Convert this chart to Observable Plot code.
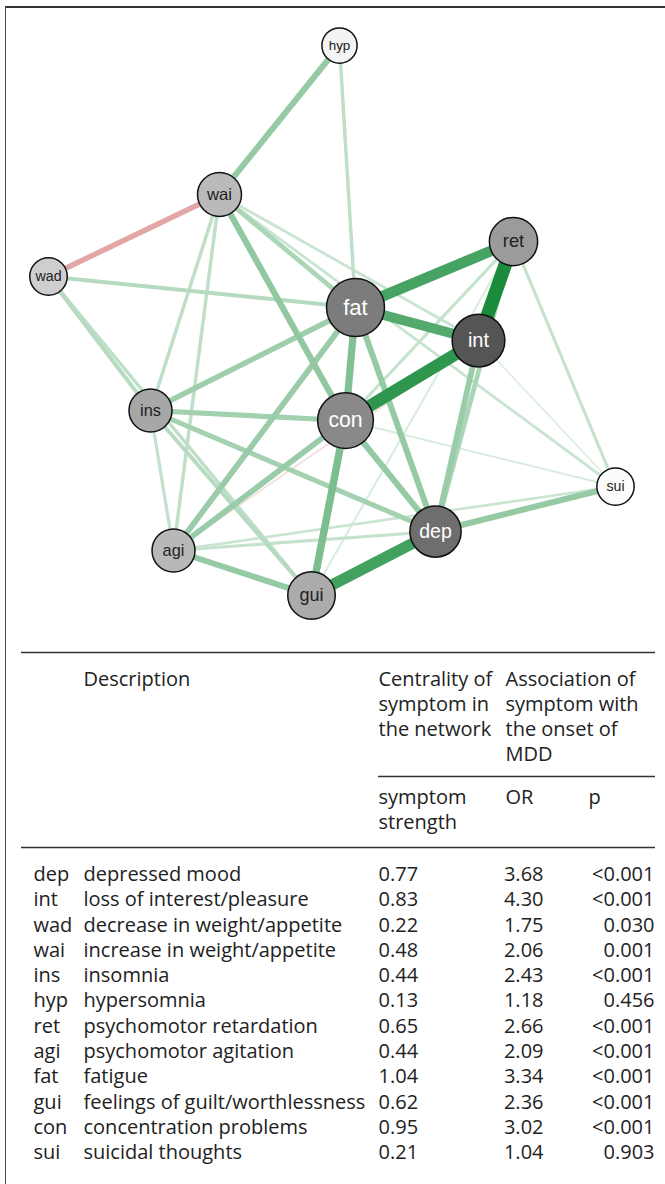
<!DOCTYPE html>
<html>
<head>
<meta charset="utf-8">
<script src="https://cdn.jsdelivr.net/npm/d3@7"></script>
<script src="https://cdn.jsdelivr.net/npm/@observablehq/plot@0.6"></script>
<style>
  html, body { margin: 0; padding: 0; background: #fff; }
  #frame { position: absolute; left: 5px; top: 6px; width: 660px; height: 1178px;
           border-top: 2px solid #333; border-left: 1.5px solid #444; box-sizing: border-box; }
  #chart { position: absolute; left: 0; top: 0; }
</style>
</head>
<body>
<div id="frame"></div>
<div id="chart"></div>
<script>
// ---------- data ----------
const codes = ["dep","int","wad","wai","ins","hyp","ret","agi","fat","gui","con","sui"];
const descriptions = ["depressed mood","loss of interest/pleasure","decrease in weight/appetite",
  "increase in weight/appetite","insomnia","hypersomnia","psychomotor retardation",
  "psychomotor agitation","fatigue","feelings of guilt/worthlessness","concentration problems",
  "suicidal thoughts"];
const strength = [0.77,0.83,0.22,0.48,0.44,0.13,0.65,0.44,1.04,0.62,0.95,0.21];
const oddsRatio = [3.68,4.30,1.75,2.06,2.43,1.18,2.66,2.09,3.34,2.36,3.02,1.04];
const pValue = ["<0.001","<0.001","0.030","0.001","<0.001","0.456","<0.001","<0.001","<0.001","<0.001","<0.001","0.903"];
// network layout (node coordinates)
const nodeX = [435,478,48,219,150,339,513,173,355,311,345,615];
const nodeY = [531,340,276,194,410,45,241,550,307,595,420,486];
// edges (partial correlation weights, estimated)
const edgeFrom = ["ret","con","fat","fat","dep","con","fat","wai","dep","agi","fat","con","hyp","fat","con","ins","ins","int","ins","wai","wad","wad","ins","wai","wai","wad","hyp","ret","ins","ret","ret","agi","wai","wai","agi","con","ret","int","wai","agi"];
const edgeTo   = ["int","int","ret","int","gui","gui","con","con","sui","gui","dep","dep","wai","agi","agi","fat","con","dep","dep","fat","fat","ins","gui","ins","agi","gui","fat","dep","agi","sui","con","dep","int","sui","sui","sui","gui","sui","wad","int"];
const edgeWeight = [1.0,0.9,0.78,0.72,0.8,0.52,0.5,0.42,0.4,0.4,0.4,0.4,0.4,0.38,0.38,0.36,0.34,0.38,0.33,0.3,0.25,0.24,0.24,0.2,0.2,0.2,0.2,0.3,0.18,0.17,0.17,0.17,0.15,0.15,0.14,0.08,0.08,0.06,-0.35,-0.05];

// header texts (one entry per printed line)
const headDescription = ["Description"];
const headCentrality = ["Centrality of", "symptom in", "the network"];
const headAssociation = ["Association of", "symptom with", "the onset of", "MDD"];
const headStrength = ["symptom", "strength"];
const headOR = ["OR"];
const headP = ["p"];

// ---------- build tables ----------
const nodes = codes.map((c, i) => ({code: c, x: nodeX[i], y: nodeY[i], strength: strength[i], or: oddsRatio[i]}));
const byCode = new Map(nodes.map(n => [n.code, n]));
const edges = edgeFrom.map((f, i) => ({
  a: byCode.get(f), b: byCode.get(edgeTo[i]), w: edgeWeight[i]
})).sort((p, q) => Math.abs(p.w) - Math.abs(q.w));
const rows = codes.map((c, i) => ({
  i, code: c, desc: descriptions[i],
  s: strength[i].toFixed(2), or: oddsRatio[i].toFixed(2), p: pValue[i]
}));

// ---------- styles ----------
const green = d3.interpolateRgb("#e8f4eb", "#1a8c3c");
const red = d3.interpolateRgb("#f5e6e6", "#c03030");
const edgeColor = w => w >= 0 ? green(w) : red(-w);
const edgeWidth = w => 1 + 12.5 * Math.abs(w);
const nodeFill = d3.scaleLinear().domain([1, 2, 3, 4.3]).range(["#ffffff", "#bdbdbd", "#8a8a8a", "#555555"]);
const nodeRadius = s => 16 + 12.5 * s;
const labelColor = or => or > 2.9 ? "#ffffff" : "#222222";

const L = { // table layout
  ruleTop: 652, ruleMid: 776, ruleBottom: 847, left: 21, right: 655, midLeft: 378,
  colCode: 33, colDesc: 83, colStrength: 378, colOR: 543, colP: 654, colORHead: 505, colPHead: 588,
  headTop: 679, subTop: 797, lineStep: 25, row0: 874, rowStep: 25.3
};
const tableFont = "'Open Sans', 'Noto Sans', sans-serif";
const fs = 20;
const txt = {fontFamily: tableFont, fontSize: fs, fill: "#222", textAnchor: "start"};
const headerMark = (lines, col, top) =>
  Plot.text(lines, {frameAnchor: "left", dx: col, y: (d, k) => top + k * L.lineStep, text: d => d, ...txt});

const chart = Plot.plot({
  width: 665, height: 1184,
  margin: 0,
  x: {domain: [0, 665], range: [0, 665], axis: null},
  y: {domain: [0, 1184], range: [0, 1184], axis: null},
  r: {type: "linear", domain: [0, 1], range: [16, 28.5]},
  marks: [
    // edges
    Plot.link(edges, {
      x1: d => d.a.x, y1: d => d.a.y, x2: d => d.b.x, y2: d => d.b.y,
      stroke: d => edgeColor(d.w), strokeWidth: d => edgeWidth(d.w), strokeOpacity: 1
    }),
    // nodes
    Plot.dot(nodes, {x: "x", y: "y", r: "strength", fill: d => nodeFill(d.or), stroke: "#111", strokeWidth: 1.5}),
    Plot.text(nodes, {x: "x", y: "y", text: "code", fill: d => labelColor(d.or),
      fontSize: d => 0.76 * nodeRadius(d.strength), fontFamily: "'Liberation Sans', Arial, sans-serif"}),
    // table rules
    Plot.ruleY([L.ruleTop], {x1: L.left, x2: L.right, stroke: "#333", strokeWidth: 1.3}),
    Plot.ruleY([L.ruleMid], {x1: L.midLeft, x2: L.right, stroke: "#333", strokeWidth: 1.3}),
    Plot.ruleY([L.ruleBottom], {x1: L.left, x2: L.right, stroke: "#333", strokeWidth: 1.3}),
    // headers
    headerMark(headDescription, L.colDesc, L.headTop),
    headerMark(headCentrality, L.colStrength, L.headTop),
    headerMark(headAssociation, L.colORHead, L.headTop),
    headerMark(headStrength, L.colStrength, L.subTop),
    headerMark(headOR, L.colORHead, L.subTop),
    headerMark(headP, L.colPHead, L.subTop),
    // rows
    Plot.text(rows, {frameAnchor: "left", dx: L.colCode, y: d => L.row0 + d.i * L.rowStep, text: "code", ...txt}),
    Plot.text(rows, {frameAnchor: "left", dx: L.colDesc, y: d => L.row0 + d.i * L.rowStep, text: "desc", ...txt}),
    Plot.text(rows, {frameAnchor: "left", dx: L.colStrength, y: d => L.row0 + d.i * L.rowStep, text: "s", ...txt}),
    Plot.text(rows, {frameAnchor: "left", dx: L.colOR, y: d => L.row0 + d.i * L.rowStep, text: "or", ...txt, textAnchor: "end"}),
    Plot.text(rows, {frameAnchor: "left", dx: L.colP, y: d => L.row0 + d.i * L.rowStep, text: "p", ...txt, textAnchor: "end"})
  ]
});
document.getElementById("chart").appendChild(chart);
</script>
</body>
</html>
